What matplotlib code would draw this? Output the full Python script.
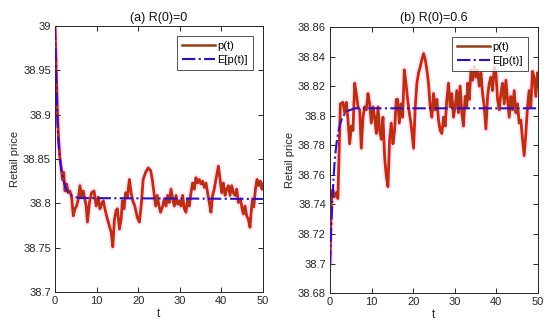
import numpy as np
import matplotlib
matplotlib.use("Agg")
import matplotlib.pyplot as plt
from matplotlib.ticker import FormatStrFormatter

plt.rcParams['font.family'] = ['Liberation Sans', 'DejaVu Sans']

# (a) R(0)=0 : sample path p(t)
t_a = [0, 0.3, 0.6, 0.9, 1.2, 1.44, 1.8, 2.1, 2.4, 2.8, 3.2, 3.6, 4.0, 4.4, 4.8, 5.2,
       5.6, 6.0, 6.4, 6.8, 7.5, 7.8, 8.3, 8.8, 9.4, 9.9, 10.4, 10.8, 11.2, 11.6, 12.0,
       12.4, 12.8, 13.5, 13.9, 14.3, 14.7, 15.0, 15.5, 15.9, 16.2, 16.6, 17.0, 17.4,
       17.9, 18.3, 18.7, 19.2, 19.8, 20.3, 20.8, 21.2, 21.8, 22.4, 23.0, 23.4, 23.8,
       24.2, 24.6, 25.0, 25.4, 25.9, 26.3, 26.7, 27.1, 27.5, 27.9, 28.3, 28.7, 29.1,
       29.5, 29.9, 30.3, 30.7, 31.1, 31.5, 31.9, 32.3, 32.7, 33.1, 33.5, 33.9, 34.3,
       34.7, 35.1, 35.5, 35.9, 36.3, 36.7, 37.1, 37.5, 37.9, 38.3, 38.7, 39.3, 39.7,
       40.1, 40.5, 40.9, 41.3, 41.7, 42.1, 42.5, 42.9, 43.3, 43.7, 44.1, 44.6, 45.0,
       45.3, 45.7, 46.1, 46.5, 46.9, 47.1, 47.5, 47.8, 48.2, 48.6, 49.0, 49.4, 49.8, 50.0]
p_a = [39.0, 38.95, 38.9, 38.87, 38.85, 38.842, 38.827, 38.835, 38.814, 38.822, 38.812,
       38.814, 38.807, 38.786, 38.794, 38.797, 38.805, 38.820, 38.807, 38.814, 38.797,
       38.779, 38.801, 38.812, 38.814, 38.797, 38.807, 38.794, 38.799, 38.803, 38.794,
       38.786, 38.779, 38.768, 38.751, 38.782, 38.792, 38.794, 38.771, 38.782, 38.803,
       38.794, 38.812, 38.807, 38.827, 38.812, 38.803, 38.797, 38.784, 38.779, 38.801,
       38.827, 38.835, 38.840, 38.837, 38.827, 38.812, 38.797, 38.809, 38.797, 38.790,
       38.797, 38.805, 38.797, 38.809, 38.801, 38.816, 38.805, 38.797, 38.809, 38.799,
       38.803, 38.797, 38.809, 38.794, 38.790, 38.805, 38.797, 38.812, 38.823, 38.816,
       38.829, 38.823, 38.827, 38.822, 38.825, 38.818, 38.823, 38.812, 38.801, 38.790,
       38.809, 38.816, 38.827, 38.842, 38.827, 38.812, 38.823, 38.809, 38.816, 38.820,
       38.809, 38.820, 38.812, 38.809, 38.816, 38.801, 38.805, 38.794, 38.788, 38.797,
       38.786, 38.782, 38.773, 38.786, 38.805, 38.796, 38.816, 38.827, 38.820, 38.825,
       38.816, 38.822]
te_a = [0, 0.25, 0.5, 0.75, 1.0, 1.5, 2.0, 2.5, 3.0, 4.0, 5.0, 6.0, 50.0]
e_a = [39.0, 38.95, 38.905, 38.875, 38.86, 38.838, 38.826, 38.818, 38.813, 38.809,
       38.807, 38.806, 38.805]

# (b) R(0)=0.6
t_b = [0, 0.3, 0.7, 1.0, 1.5, 1.9, 2.2, 2.5, 3.12, 3.53, 3.93, 4.33, 4.73, 5.13, 5.53,
       5.93, 6.33, 6.73, 7.13, 7.53, 7.93, 8.33, 8.73, 9.13, 9.54, 9.94, 10.34, 10.74,
       11.14, 11.54, 11.94, 12.34, 12.74, 13.14, 13.54, 13.94, 14.34, 14.74, 15.14,
       15.54, 15.94, 16.27, 16.67, 17.07, 17.47, 17.87, 18.27, 18.67, 19.07, 19.47,
       19.87, 20.1, 20.5, 20.9, 21.3, 21.7, 22.1, 22.5, 22.9, 23.3, 23.7, 24.1, 24.5,
       24.9, 25.3, 25.7, 26.1, 26.5, 26.9, 27.3, 27.7, 28.1, 28.5, 28.9, 29.3, 29.7,
       30.1, 30.5, 30.9, 31.3, 31.7, 32.1, 32.5, 32.9, 33.1, 33.5, 33.9, 34.3, 34.7,
       35.1, 35.5, 35.9, 36.3, 36.7, 37.1, 37.5, 37.9, 38.3, 38.7, 39.1, 39.5, 39.9,
       40.3, 40.7, 41.1, 41.5, 41.9, 42.3, 42.7, 43.1, 43.5, 43.9, 44.3, 44.7, 45.1,
       45.5, 45.9, 46.3, 46.7, 47.1, 47.5, 47.9, 48.3, 48.7, 49.1, 49.5, 49.9, 50.0]
p_b = [38.700, 38.742, 38.750, 38.745, 38.748, 38.744, 38.775, 38.808, 38.809, 38.802,
       38.809, 38.797, 38.781, 38.793, 38.790, 38.822, 38.815, 38.806, 38.804, 38.778,
       38.799, 38.806, 38.804, 38.815, 38.808, 38.795, 38.806, 38.799, 38.788, 38.806,
       38.790, 38.784, 38.799, 38.772, 38.759, 38.752, 38.784, 38.795, 38.781, 38.790,
       38.811, 38.811, 38.795, 38.808, 38.799, 38.831, 38.822, 38.811, 38.802, 38.795,
       38.784, 38.778, 38.806, 38.822, 38.829, 38.833, 38.838, 38.842, 38.838, 38.831,
       38.822, 38.806, 38.799, 38.815, 38.804, 38.811, 38.797, 38.790, 38.788, 38.799,
       38.793, 38.811, 38.822, 38.806, 38.815, 38.799, 38.806, 38.817, 38.802, 38.820,
       38.802, 38.793, 38.813, 38.806, 38.822, 38.811, 38.831, 38.824, 38.833, 38.826,
       38.831, 38.820, 38.829, 38.815, 38.806, 38.791, 38.813, 38.822, 38.826, 38.817,
       38.833, 38.829, 38.811, 38.804, 38.815, 38.822, 38.808, 38.824, 38.811, 38.799,
       38.813, 38.804, 38.817, 38.802, 38.808, 38.795, 38.797, 38.784, 38.773, 38.788,
       38.806, 38.817, 38.806, 38.830, 38.826, 38.813, 38.829, 38.820]
te_b = [0, 0.3, 0.6, 0.9, 1.2, 1.6, 2.0, 2.5, 3.0, 4.0, 5.0, 6.0, 50.0]
e_b = [38.70, 38.725, 38.745, 38.76, 38.772, 38.782, 38.789, 38.795, 38.799, 38.803,
       38.804, 38.805, 38.805]

yticks_a = [38.7, 38.75, 38.8, 38.85, 38.9, 38.95, 39.0]
yticks_b = [38.68, 38.70, 38.72, 38.74, 38.76, 38.78, 38.80, 38.82, 38.84, 38.86]
xticks = [0, 10, 20, 30, 40, 50]

fig = plt.figure(figsize=(5.5, 3.29), dpi=100)
ax1 = fig.add_axes([0.1, 0.1125, 0.378, 0.808])
ax2 = fig.add_axes([0.6, 0.109, 0.378, 0.809])

panels = [(ax1, t_a, p_a, te_a, e_a, yticks_a, '(a) R(0)=0'),
          (ax2, t_b, p_b, te_b, e_b, yticks_b, '(b) R(0)=0.6')]

for ax, t, p, te, e, yt, title in panels:
    # faint pink halo + red body + brown core, like the original raster
    ax.plot(t, p, color='#ffe6f7', lw=4.5, zorder=1)
    ax.plot(t, p, color='#ee1a10', lw=2.0, zorder=2)
    ln1, = ax.plot(t, p, color='#9a3d12', lw=0.9, zorder=3)
    ln2, = ax.plot(te, e, color='#2a10cc', lw=1.5, ls='-.', zorder=4)
    ax.set_xlim(0, 50)
    ax.set_ylim(yt[0], yt[-1])
    ax.set_xticks(xticks)
    ax.set_yticks(yt)
    ax.yaxis.set_major_formatter(FormatStrFormatter('%g'))
    ax.tick_params(direction='in', top=True, right=True, length=3.5, width=0.7,
                   labelsize=8, colors='#262626', pad=3)
    for s in ax.spines.values():
        s.set_color('#262626')
        s.set_linewidth(0.7)
    ax.set_title(title, fontsize=9, color='#111111', pad=4)
    ax.set_xlabel('t', fontsize=8.5, color='#262626', labelpad=1)
    ax.set_ylabel('Retail price', fontsize=8, color='#262626', labelpad=2)
    leg_red, = ax.plot([], [], color='#9a3d12', lw=1.8)
    leg = ax.legend([leg_red, ln2], ['p(t)', 'E[p(t)]'], loc='upper right',
                    fontsize=8, frameon=True, fancybox=False, edgecolor='#262626',
                    handlelength=3.0, borderpad=0.45, labelspacing=0.35,
                    handletextpad=0.2, borderaxespad=0.9)
    leg.get_frame().set_linewidth(0.7)

fig.savefig('out.png', dpi=100)
